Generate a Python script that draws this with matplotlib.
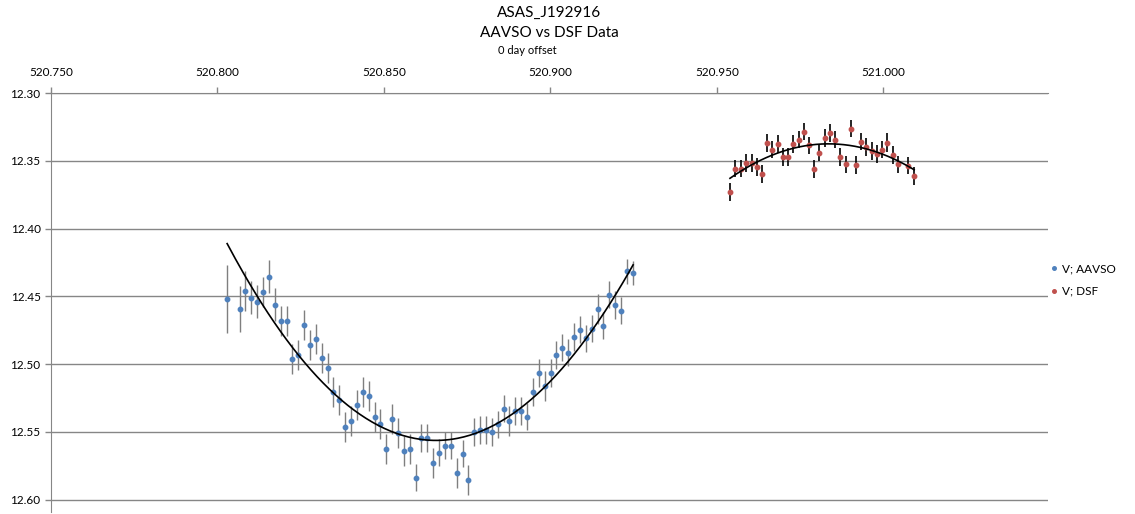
import numpy as np
import matplotlib
matplotlib.use("Agg")
import matplotlib.pyplot as plt
from matplotlib.ticker import FormatStrFormatter, MultipleLocator

plt.rcParams['font.family'] = ['Lato', 'DejaVu Sans']

# AAVSO V observations (time, mag, error)
aavso_t = [520.8029, 520.8068, 520.8083, 520.8101, 520.8119, 520.8137, 520.8155,
           520.8173, 520.8191, 520.8209, 520.8224, 520.8242, 520.8261, 520.8278,
           520.8296, 520.8314, 520.8332, 520.8348, 520.8365, 520.8383, 520.8401,
           520.8419, 520.8437, 520.8455, 520.8473, 520.8488, 520.8506, 520.8524,
           520.8542, 520.8560, 520.8578, 520.8596, 520.8612, 520.8630, 520.8646,
           520.8665, 520.8683, 520.8701, 520.8719, 520.8737, 520.8753, 520.8770,
           520.8788, 520.8806, 520.8824, 520.8841, 520.8860, 520.8875, 520.8893,
           520.8911, 520.8929, 520.8947, 520.8966, 520.8983, 520.9002, 520.9017,
           520.9035, 520.9053, 520.9070, 520.9089, 520.9107, 520.9125, 520.9143,
           520.9159, 520.9176, 520.9194, 520.9212, 520.9231, 520.9248]
aavso_mag = [12.4519, 12.4593, 12.4460, 12.4510, 12.4539, 12.4465, 12.4355,
             12.4561, 12.4679, 12.4679, 12.4962, 12.4932, 12.4711, 12.4858,
             12.4816, 12.4952, 12.5026, 12.5207, 12.5264, 12.5461, 12.5417,
             12.5299, 12.5203, 12.5237, 12.5387, 12.5439, 12.5625, 12.5402,
             12.5510, 12.5638, 12.5625, 12.5837, 12.5544, 12.5544, 12.5726,
             12.5653, 12.5601, 12.5601, 12.5800, 12.5660, 12.5852, 12.5500,
             12.5485, 12.5485, 12.5500, 12.5443, 12.5328, 12.5417, 12.5345,
             12.5345, 12.5387, 12.5205, 12.5065, 12.5159, 12.5065, 12.4932,
             12.4878, 12.4915, 12.4799, 12.4746, 12.4809, 12.4738, 12.4591,
             12.4716, 12.4487, 12.4563, 12.4605, 12.4315, 12.4327]
aavso_err = [0.025, 0.017, 0.015, 0.012, 0.012, 0.011, 0.012,
             0.012, 0.011, 0.011, 0.011, 0.011, 0.011, 0.011,
             0.011, 0.011, 0.011, 0.011, 0.011, 0.011, 0.011,
             0.011, 0.011, 0.011, 0.011, 0.011, 0.011, 0.011,
             0.011, 0.011, 0.011, 0.010, 0.010, 0.010, 0.011,
             0.010, 0.010, 0.010, 0.011, 0.010, 0.011, 0.010,
             0.010, 0.010, 0.010, 0.010, 0.010, 0.011, 0.010,
             0.010, 0.010, 0.010, 0.010, 0.011, 0.010, 0.010,
             0.010, 0.010, 0.010, 0.010, 0.010, 0.010, 0.011,
             0.010, 0.010, 0.010, 0.010, 0.009, 0.009]

# DSF V observations
dsf_t = [520.9539, 520.9555, 520.9571, 520.9588, 520.9605, 520.9620, 520.9635,
         520.9650, 520.9665, 520.9682, 520.9698, 520.9713, 520.9728, 520.9745,
         520.9761, 520.9776, 520.9791, 520.9806, 520.9823, 520.9839, 520.9854,
         520.9869, 520.9887, 520.9902, 520.9917, 520.9932, 520.9948, 520.9966,
         520.9981, 520.9996, 521.0011, 521.0029, 521.0044, 521.0075, 521.0092]
dsf_mag = [12.3728, 12.3558, 12.3558, 12.3514, 12.3514, 12.3544, 12.3597,
           12.3369, 12.3418, 12.3374, 12.3472, 12.3470, 12.3374, 12.3344,
           12.3285, 12.3386, 12.3560, 12.3440, 12.3330, 12.3293, 12.3344,
           12.3472, 12.3526, 12.3263, 12.3533, 12.3359, 12.3396, 12.3426,
           12.3448, 12.3418, 12.3367, 12.3455, 12.3526, 12.3536, 12.3610]
dsf_err = [0.0065, 0.0065, 0.0065, 0.0065, 0.0065, 0.0065, 0.0065,
           0.0065, 0.0065, 0.0065, 0.0065, 0.0065, 0.0065, 0.0065,
           0.0065, 0.0065, 0.0065, 0.0065, 0.0065, 0.0065, 0.0065,
           0.0065, 0.0065, 0.0065, 0.0065, 0.0065, 0.0065, 0.0065,
           0.0065, 0.0065, 0.0070, 0.0065, 0.0065, 0.0065, 0.0065]

blue = '#4f81bd'
red = '#c0504d'
grey = '#868686'

fig = plt.figure(figsize=(11.35, 5.14), dpi=100)
ax = fig.add_axes([51 / 1135, 2 / 514, 997 / 1135, 419 / 514])

ax.errorbar(aavso_t, aavso_mag, yerr=aavso_err, fmt='none', ecolor='#7f7f7f',
            elinewidth=1, capsize=0, zorder=2)
ax.plot(aavso_t, aavso_mag, 'o', color=blue, ms=3.2, mec=blue, label='V; AAVSO', zorder=3)
ax.errorbar(dsf_t, dsf_mag, yerr=dsf_err, fmt='none', ecolor='black',
            elinewidth=1.2, capsize=0, zorder=2)
ax.plot(dsf_t, dsf_mag, 'o', color=red, ms=3.2, mec=red, label='V; DSF', zorder=3)

# polynomial trendlines
for t, m in [(aavso_t, aavso_mag), (dsf_t, dsf_mag)]:
    t = np.asarray(t)
    c = np.polyfit(t - t.mean(), m, 2)
    tt = np.linspace(t.min(), t.max(), 200)
    ax.plot(tt, np.polyval(c, tt - t.mean()), color='black', lw=1.2, zorder=4)

ax.set_xlim(520.75, 521.0494)
ax.set_ylim(12.609, 12.30)
ax.xaxis.set_major_locator(MultipleLocator(0.05))
ax.yaxis.set_major_locator(MultipleLocator(0.05))
ax.xaxis.set_major_formatter(FormatStrFormatter('%.3f'))
ax.yaxis.set_major_formatter(FormatStrFormatter('%.2f'))
ax.xaxis.tick_top()
ax.tick_params(axis='both', colors=grey, labelcolor='black', labelsize=8.5,
               length=4, width=1, direction='out')
ax.tick_params(axis='x', pad=7)
ax.grid(axis='y', color=grey, lw=1)
for s in ['right', 'bottom']:
    ax.spines[s].set_visible(False)
for s in ['top', 'left']:
    ax.spines[s].set_color(grey)

ax.legend(loc='upper left', bbox_to_anchor=(1040 / 1135, 1 - 253 / 514),
          bbox_transform=fig.transFigure, frameon=False, fontsize=8.5,
          handlelength=0.6, handletextpad=0.4, labelspacing=0.95, markerscale=0.8)

fig.text(549 / 1135, 1 - 13 / 514, 'ASAS_J192916', ha='center', va='center', fontsize=11)
fig.text(549 / 1135, 1 - 33 / 514, 'AAVSO vs DSF Data', ha='center', va='center', fontsize=11)
fig.text(527 / 1135, 1 - 51 / 514, '0 day offset', ha='center', va='center', fontsize=8)

fig.savefig('out.png', dpi=100)
